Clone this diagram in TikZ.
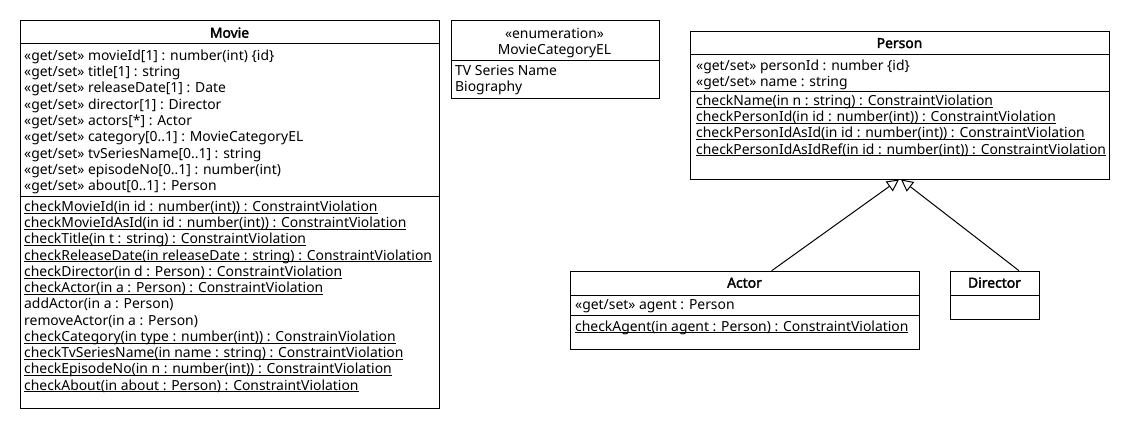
\documentclass[tikz,border=0pt]{standalone}
\usepackage{fontspec}
\setmainfont{Noto Sans}[AutoFakeBold=2.2]
\usetikzlibrary{arrows.meta}
\newcommand\getset{«get/set» }
\newcommand\myul[1]{\setbox0\hbox{#1}\rlap{\rule[-2.2pt]{\wd0}{0.8pt}}\box0}
\tikzset{
  box/.style={draw, line width=1pt, inner sep=0pt, anchor=north west},
  txt/.style={anchor=base west, inner sep=0pt, font=\fontsize{13.9}{16}\selectfont},
  ctr/.style={anchor=base, inner sep=0pt, font=\fontsize{13.9}{16}\selectfont},
  ttl/.style={anchor=base, inner sep=0pt, font=\fontsize{13.9}{16}\selectfont\bfseries},
  sep/.style={line width=1pt},
  gen/.style={line width=1pt, -{Triangle[open, length=12pt, width=12pt]}},
}
\begin{document}
\begin{tikzpicture}[x=1pt, y=-1pt]
\useasboundingbox (0,0) rectangle (1130,430);
\fill[white] (0,0) rectangle (1130,430);
% ---------- Movie ----------
\node[box, minimum width=419pt, minimum height=388pt] (movie) at (20,20) {};
\draw[sep] (20,44) -- (439,44);
\draw[sep] (20,197) -- (439,197);
\node[ttl] (movieT) at (229.5,37.7) {Movie};
\foreach \t [count=\i from 0] in {
  {\getset movieId[1] : number(int) \{id\}},
  {\getset title[1] : string},
  {\getset releaseDate[1] : Date},
  {\getset director[1] : Director},
  {\getset actors[*] : Actor},
  {\getset category[0..1] : MovieCategoryEL},
  {\getset tvSeriesName[0..1] : string},
  {\getset episodeNo[0..1] : number(int)},
  {\getset about[0..1] : Person}}
  \node[txt] (ma\i) at (24,{60.3+16.3*\i}) {\t};
\foreach \t [count=\i from 0] in {
  {\myul{checkMovieId(in id : number(int)) : ConstraintViolation}},
  {\myul{checkMovieIdAsId(in id : number(int)) : ConstraintViolation}},
  {\myul{checkTitle(in t : string) : ConstraintViolation}},
  {\myul{checkReleaseDate(in releaseDate : string) : ConstraintViolation}},
  {\myul{checkDirector(in d : Person) : ConstraintViolation}},
  {\myul{checkActor(in a : Person) : ConstraintViolation}},
  {addActor(in a : Person)},
  {removeActor(in a : Person)},
  {\myul{checkCategory(in type : number(int)) : ConstrainViolation}},
  {\myul{checkTvSeriesName(in name : string) : ConstraintViolation}},
  {\myul{checkEpisodeNo(in n : number(int)) : ConstraintViolation}},
  {\myul{checkAbout(in about : Person) : ConstraintViolation}}}
  \node[txt] (mm\i) at (24,{211.3+16.25*\i}) {\t};
% ---------- Enumeration ----------
\node[box, minimum width=208pt, minimum height=78.5pt] (enum) at (450.5,20) {};
\draw[sep] (450.5,61) -- (658.5,61);
\node[ctr] (enumS) at (554.5,38.3) {«enumeration»};
\node[ctr] (enumT) at (554.5,54.3) {MovieCategoryEL};
\node[txt] (e0) at (455,75.5) {TV Series Name};
\node[txt] (e1) at (455,91.5) {Biography};
% ---------- Person ----------
\node[box, minimum width=419pt, minimum height=148.5pt] (person) at (690,30.7) {};
\draw[sep] (690,54.7) -- (1109,54.7);
\draw[sep] (690,91.3) -- (1109,91.3);
\node[ttl] (personT) at (899.5,48) {Person};
\node[txt] (pa0) at (696,70.7) {\getset personId : number \{id\}};
\node[txt] (pa1) at (696,86.5) {\getset name : string};
\foreach \t [count=\i from 0] in {
  {\myul{checkName(in n : string) : ConstraintViolation}},
  {\myul{checkPersonId(in id : number(int)) : ConstraintViolation}},
  {\myul{checkPersonIdAsId(in id : number(int)) : ConstraintViolation}},
  {\myul{checkPersonIdAsIdRef(in id : number(int)) : ConstraintViolation}}}
  \node[txt] (pm\i) at (696,{105.3+16.25*\i}) {\t};
% ---------- Actor ----------
\node[box, minimum width=349pt, minimum height=78.5pt] (actor) at (570,270.7) {};
\draw[sep] (570,295.7) -- (919,295.7);
\draw[sep] (570,315.3) -- (919,315.3);
\node[ttl] (actorT) at (744.5,287.7) {Actor};
\node[txt] (aa0) at (575,309.5) {\getset agent : Person};
\node[txt] (am0) at (575,331) {\myul{checkAgent(in agent : Person) : ConstraintViolation}};
% ---------- Director ----------
\node[box, minimum width=89pt, minimum height=48.3pt] (director) at (950,270.7) {};
\draw[sep] (950,295.7) -- (1039,295.7);
\node[ttl] (directorT) at (994.5,287.7) {Director};
% ---------- Generalizations ----------
\coordinate (aStart) at (771.7,270.7);
\coordinate (dStart) at (1019,270.7);
\coordinate (pTipA) at (899,179.5);
\coordinate (pTipD) at (901,179.5);
\draw[gen] (aStart) -- (pTipA);
\draw[gen] (dStart) -- (pTipD);
\end{tikzpicture}
\end{document}
